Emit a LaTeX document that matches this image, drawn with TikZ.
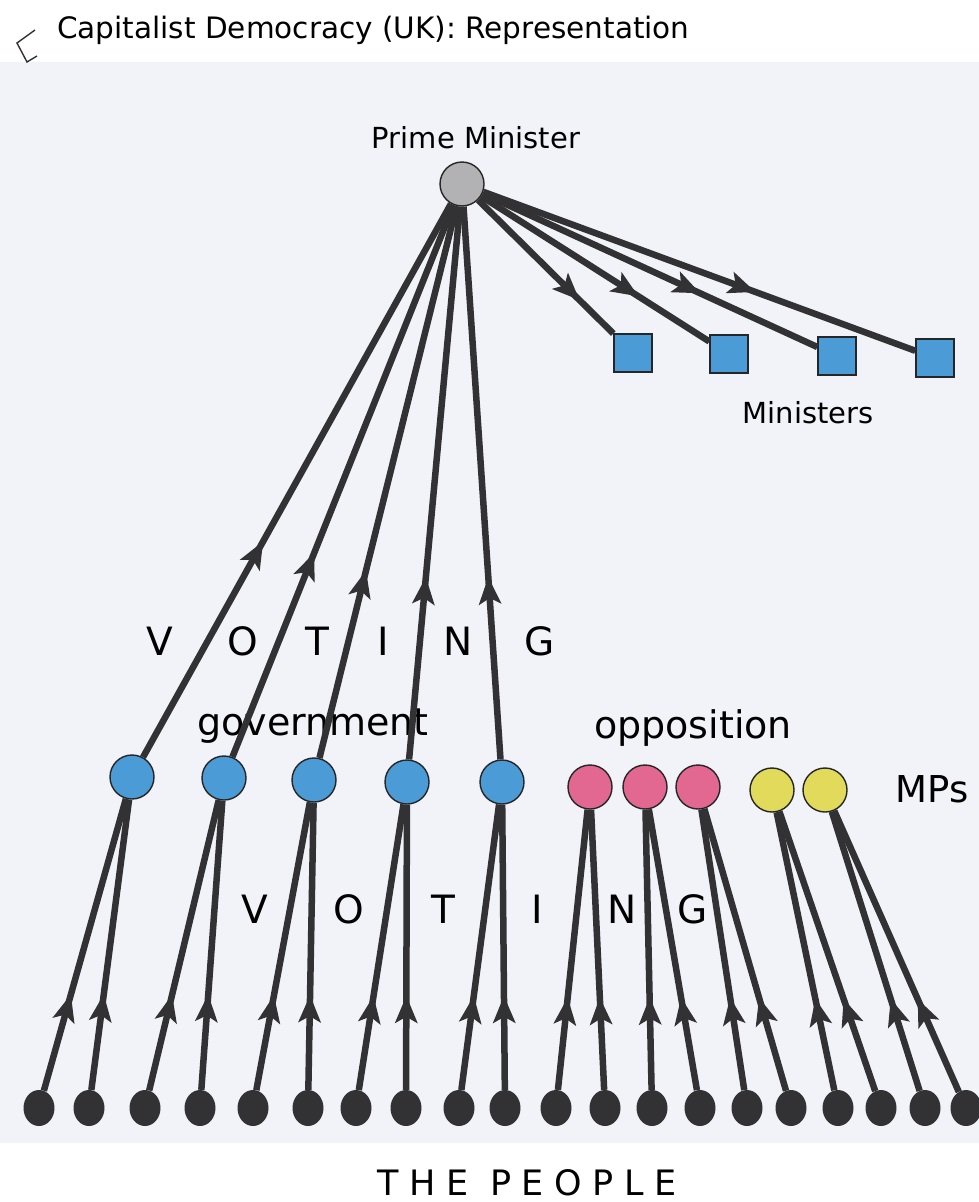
\documentclass[tikz,border=0pt]{standalone}
\usepackage{fontspec}
\setmainfont{DejaVu Sans}
\newfontfamily\spacedfont[LetterSpace=30]{DejaVu Sans}
\usepackage{tikz}
\usetikzlibrary{arrows.meta,decorations.markings,shapes.geometric}
\definecolor{govc}{RGB}{74,155,214}
\definecolor{oppc}{RGB}{226,104,145}
\definecolor{thirdc}{RGB}{226,218,90}
\definecolor{pmc}{RGB}{178,178,180}
\definecolor{linec}{RGB}{50,50,52}
\definecolor{paper}{RGB}{241,243,248}

\begin{document}
\begin{tikzpicture}[x=1pt, y=-1pt,
  mp/.style={circle, draw=black!85, line width=1.4pt, minimum size=44pt, inner sep=0pt},
  voter/.style={ellipse, fill=linec, minimum width=31pt, minimum height=36pt, inner sep=0pt},
  minister/.style={rectangle, draw=black!85, line width=1.4pt, fill=govc, minimum size=38pt, inner sep=0pt},
  link/.style={linec, line width=6.5pt},
  midarrow/.style={decoration={markings, mark=at position #1 with {\arrow{Stealth[length=27pt,width=22pt,inset=6pt]}}}, postaction={decorate}},
  lbl/.style={font=\fontsize{29}{32}\selectfont, inner sep=0pt},
  big/.style={font=\fontsize{38}{42}\selectfont, inner sep=0pt, anchor=base},
  letter/.style={font=\fontsize{39}{42}\selectfont, inner sep=0pt, anchor=base}]
  \fill[paper] (0,62) rectangle (979,1143);
  \useasboundingbox (0,0) rectangle (979,1202);
  \draw[linec, line width=1.4pt] (35,30) -- (17,43) -- (27,62) -- (37,56);
  \node[lbl, anchor=base west, font=\fontsize{29.5}{32}\selectfont] (title) at (57,38) {Capitalist Democracy (UK): Representation};
  \node[mp, fill=pmc] (pm) at (462,184) {};
  \node[lbl, anchor=base] (pmlbl) at (476,148) {Prime Minister};
  \foreach \i/\x/\y in {1/633/353, 2/729/354, 3/837/356, 4/935/358}
    \node[minister] (m\i) at (\x,\y) {};
  \node[lbl, anchor=base] (mlbl) at (808,423) {Ministers};
  \foreach \l/\x [count=\k] in {V/160, O/243, T/317, I/383, N/458, G/540}
    \node[letter] (va\k) at (\x,655) {\l};
  \foreach \l/\x [count=\k] in {V/255, O/349, T/443, I/537, N/622, G/693}
    \node[letter] (vb\k) at (\x,923) {\l};
  \node[big] (gov) at (313,735) {government};
  \node[big] (opp) at (693,738) {opposition};
  \node[big, font=\fontsize{37}{42}\selectfont] (mps) at (932,802) {MPs};
  \foreach \i/\x/\y/\col in {1/132/777/govc, 2/224/778/govc, 3/314/780/govc, 4/407/782/govc, 5/502/782/govc,
      6/590/787/oppc, 7/645/787/oppc, 8/698/787/oppc, 9/772/790/thirdc, 10/825/790/thirdc}
    \node[mp, fill=\col] (mp\i) at (\x,\y) {};
  \foreach \i/\x in {1/39, 2/89, 3/145, 4/200, 5/253, 6/308, 7/356, 8/406, 9/459, 10/505,
      11/556, 12/605, 13/652, 14/700, 15/747, 16/791, 17/838, 18/881, 19/925, 20/966}
    \node[voter] (p\i) at (\x,1108) {};
  \node[font=\spacedfont\fontsize{35}{38}\selectfont, inner sep=0pt, anchor=base] (people) at (527,1195) {THE PEOPLE};
  \foreach \i/\pos in {1/0.39, 2/0.37, 3/0.34, 4/0.33, 5/0.33}
    \draw[link, midarrow=\pos] (mp\i) -- (pm);
  \foreach \i/\pos in {1/0.75, 2/0.69, 3/0.65, 4/0.63}
    \draw[link, midarrow=\pos] (pm) -- (m\i);
  \foreach \p/\m in {1/1, 2/1, 3/2, 4/2, 5/3, 6/3, 7/4, 8/4, 9/5, 10/5,
      11/6, 12/6, 13/7, 14/7, 15/8, 16/8, 17/9, 18/9, 19/10, 20/10}
    \draw[link, midarrow=0.33] (p\p) -- (mp\m);
\end{tikzpicture}
\end{document}
